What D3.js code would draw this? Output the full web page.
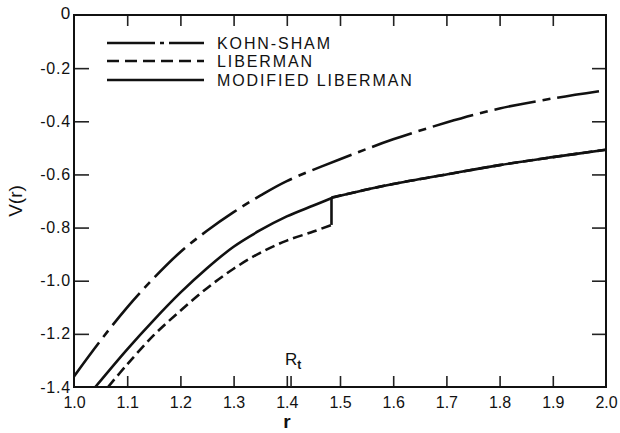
<!DOCTYPE html>
<html><head><meta charset="utf-8">
<script src="https://cdn.jsdelivr.net/npm/d3@7"></script>
<style>
body{margin:0;background:#fff;}
text{font-family:"Liberation Sans","DejaVu Sans",sans-serif;fill:#111;}
</style></head>
<body><svg id="c" width="620" height="433"></svg>
<script>
// ---- data ----
const xTicks = [1.0,1.1,1.2,1.3,1.4,1.5,1.6,1.7,1.8,1.9,2.0];
const yTicks = [0,-0.2,-0.4,-0.6,-0.8,-1.0,-1.2,-1.4];
const kohnShamR = [1.0,1.05,1.1,1.15,1.2,1.25,1.3,1.35,1.4,1.5,1.6,1.7,1.8,1.9,2.0];
const kohnShamV = [-1.36,-1.225,-1.10,-0.99,-0.892,-0.812,-0.742,-0.68,-0.625,-0.543,-0.468,-0.405,-0.352,-0.314,-0.283];
const modLibR = [1.04,1.1,1.15,1.2,1.25,1.3,1.35,1.4,1.45,1.487,1.55,1.6,1.7,1.8,1.9,2.0];
const modLibV = [-1.40,-1.258,-1.148,-1.045,-0.953,-0.872,-0.81,-0.758,-0.717,-0.687,-0.657,-0.636,-0.600,-0.565,-0.535,-0.507];
const libR = [1.064,1.1,1.15,1.2,1.25,1.3,1.35,1.4,1.45,1.484,1.484,1.55,1.6,1.7,1.8,1.9,2.0];
const libV = [-1.40,-1.315,-1.205,-1.113,-1.028,-0.955,-0.895,-0.849,-0.815,-0.79,-0.687,-0.657,-0.636,-0.600,-0.565,-0.535,-0.507];
const legendLabels = ["KOHN-SHAM","LIBERMAN","MODIFIED LIBERMAN"];
const rtMark = 1.408;

// ---- layout ----
const svg = d3.select("#c");
const L=74, R=606, T=15, B=387;
const x = d3.scaleLinear().domain([1.0,2.0]).range([L,R]);
const y = d3.scaleLinear().domain([-1.4,0]).range([B,T]);

const fmtY = d => d===0 ? "0" : d.toFixed(1);
const fmtX = d => d.toFixed(1);

svg.append("clipPath").attr("id","clp").append("rect")
  .attr("x",L).attr("y",T).attr("width",R-L).attr("height",B-T);

// axes
const gB = svg.append("g").attr("transform",`translate(0,${B})`)
  .call(d3.axisBottom(x).tickValues(xTicks).tickSize(-11).tickSizeOuter(0).tickPadding(10).tickFormat(fmtX));
const gT = svg.append("g").attr("transform",`translate(0,${T})`)
  .call(d3.axisTop(x).tickValues(xTicks).tickSize(-11).tickSizeOuter(0).tickFormat(""));
const gL = svg.append("g").attr("transform",`translate(${L},0)`)
  .call(d3.axisLeft(y).tickValues(yTicks).tickSize(-15).tickSizeOuter(0).tickPadding(3).tickFormat(fmtY));
const gR = svg.append("g").attr("transform",`translate(${R},0)`)
  .call(d3.axisRight(y).tickValues(yTicks).tickSize(-14).tickSizeOuter(0).tickFormat(""));
[gB,gT,gL,gR].forEach(g=>{
  g.select(".domain").remove();
  g.selectAll("line").attr("stroke","#222").attr("stroke-width",1.6);
  g.selectAll("text").attr("font-size",16).attr("fill","#111")
   .attr("font-family","'Liberation Sans','DejaVu Sans',sans-serif");
});
gL.selectAll("text").attr("letter-spacing",0.8);
gB.selectAll(".tick").filter(d=>d===1.0||d===2.0).select("line").remove();
gT.selectAll(".tick").filter(d=>d===1.0||d===2.0).select("line").remove();
gL.selectAll(".tick").filter(d=>d===0||d===-1.4).select("line").remove();
gR.selectAll(".tick").filter(d=>d===0||d===-1.4).select("line").remove();
gL.selectAll(".tick").filter(d=>d===0).select("text").attr("dy","0.2em").attr("font-size",17);

// frame
svg.append("rect").attr("x",L).attr("y",T).attr("width",R-L).attr("height",B-T)
  .attr("fill","none").attr("stroke","#111").attr("stroke-width",2);

// R_t marker tick
svg.append("line").attr("x1",x(rtMark)).attr("x2",x(rtMark)).attr("y1",B).attr("y2",B-11)
  .attr("stroke","#222").attr("stroke-width",1.6);
const rt = svg.append("text").attr("x",x(rtMark)-6).attr("y",B-22).attr("font-size",17);
rt.append("tspan").text("R");
rt.append("tspan").attr("font-size",12).attr("font-weight","bold").attr("dy",4).text("t");

// curves
const line = d3.line().x(d=>x(d[0])).y(d=>y(d[1])).curve(d3.curveCatmullRom.alpha(0.5));
const lineLin = d3.line().x(d=>x(d[0])).y(d=>y(d[1]));
const plot = svg.append("g").attr("clip-path","url(#clp)");
const ks = d3.zip(kohnShamR,kohnShamV);
const ml = d3.zip(modLibR,modLibV);
const lb = d3.zip(libR,libV);
const mlA = ml.filter(d=>d[0]<=1.487), mlB = ml.filter(d=>d[0]>=1.487);
const lbA = lb.slice(0,10), lbB = lb.slice(9,11), lbC = lb.slice(10);
const style = (p,dash)=>p.attr("fill","none").attr("stroke","#111").attr("stroke-width",2.6)
  .attr("stroke-dasharray",dash);
style(plot.append("path").attr("d",line(ks)),"42,7,8,7");
style(plot.append("path").attr("d",line(mlA)),null);
style(plot.append("path").attr("d",line(mlB)),null);
style(plot.append("path").attr("d",line(lbA)),"10,5");
style(plot.append("path").attr("d",lineLin(lbB)),null);
style(plot.append("path").attr("d",line(lbC)),"10,5");

// legend
const legY = [43,61,80];
const legDash = ["48,5,4,5","12,6",null];
legendLabels.forEach((lab,i)=>{
  svg.append("line").attr("x1",107).attr("x2",204).attr("y1",legY[i]).attr("y2",legY[i])
    .attr("stroke","#111").attr("stroke-width",2.6).attr("stroke-dasharray",legDash[i]);
  svg.append("text").attr("x",217).attr("y",legY[i]+6).attr("font-size",16)
    .attr("letter-spacing",1.9).text(lab);
});

// axis titles
svg.append("text").attr("x",x(1.5)-53).attr("y",428).attr("font-size",19).attr("font-weight","bold").attr("text-anchor","middle").text("r");
svg.append("text").attr("transform",`translate(22,${y(-0.7)}) rotate(-90)`)
  .attr("font-size",19).attr("text-anchor","middle").text("V(r)");
</script></body></html>
